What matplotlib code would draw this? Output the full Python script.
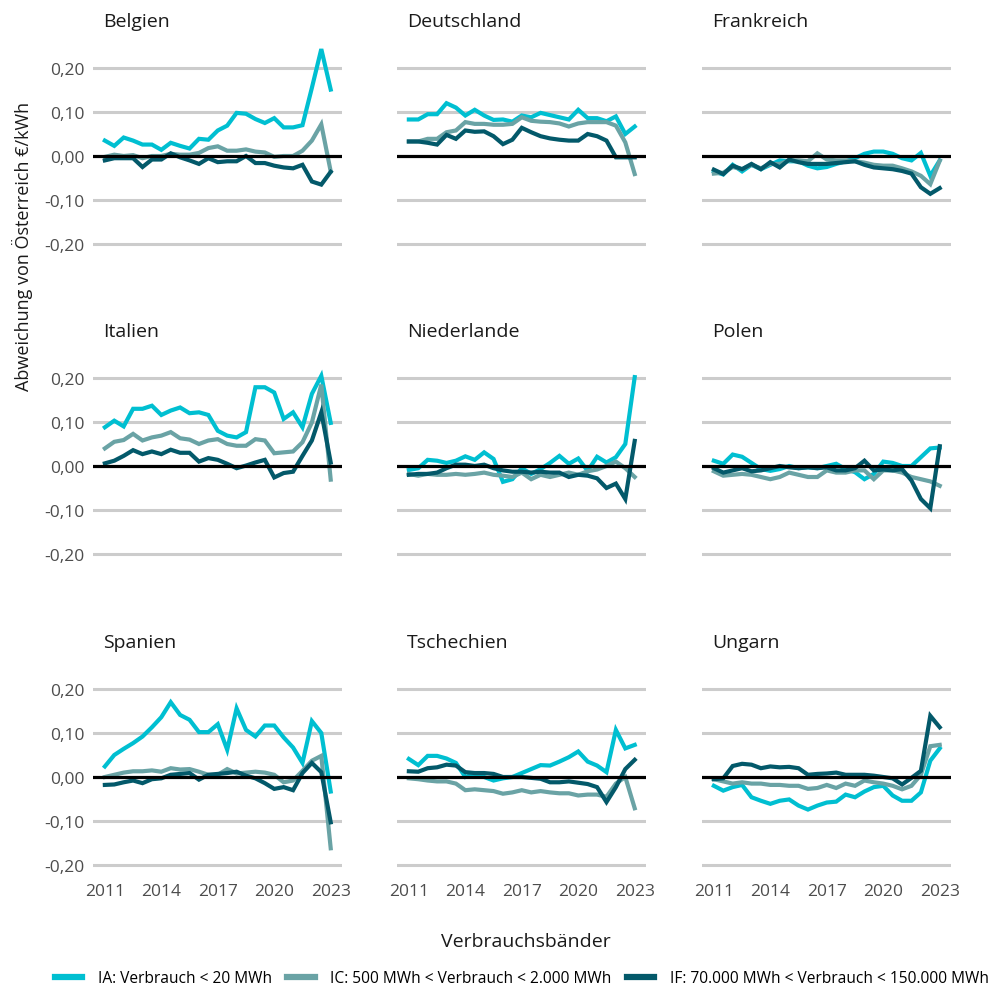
import matplotlib
matplotlib.use("Agg")
from matplotlib import pyplot as plt
from matplotlib.lines import Line2D
from matplotlib.ticker import FuncFormatter

plt.rcParams['font.family'] = ['Open Sans', 'DejaVu Sans']

# half-year steps 2011 .. 2023
years = [2011 + 0.5 * i for i in range(25)]

belgien_ia = [0.035, 0.023, 0.042, 0.035, 0.026, 0.026, 0.014, 0.030, 0.023, 0.017, 0.039, 0.037, 0.058,
              0.069, 0.098, 0.096, 0.084, 0.075, 0.086, 0.065, 0.065, 0.070, 0.155, 0.243, 0.151]
belgien_ic = [-0.002, 0.003, 0.000, 0.002, -0.005, 0.000, 0.000, 0.005, 0.003, 0.003, 0.007, 0.018, 0.022,
              0.012, 0.012, 0.015, 0.010, 0.008, -0.002, 0.000, 0.000, 0.012, 0.035, 0.072, -0.035]
belgien_if = [-0.010, -0.005, -0.005, -0.005, -0.025, -0.008, -0.008, 0.006, -0.003, -0.010, -0.018, -0.005,
              -0.014, -0.012, -0.012, 0.000, -0.016, -0.016, -0.022, -0.026, -0.028, -0.020, -0.058, -0.065, -0.036]

deutschland_ia = [0.083, 0.083, 0.095, 0.095, 0.120, 0.110, 0.092, 0.105, 0.092, 0.082, 0.083, 0.078, 0.092,
                  0.088, 0.098, 0.093, 0.088, 0.083, 0.105, 0.086, 0.086, 0.079, 0.090, 0.050, 0.067]
deutschland_ic = [0.033, 0.033, 0.039, 0.039, 0.054, 0.058, 0.077, 0.073, 0.073, 0.071, 0.071, 0.073, 0.088,
                  0.080, 0.078, 0.077, 0.074, 0.067, 0.074, 0.077, 0.077, 0.077, 0.069, 0.031, -0.041]
deutschland_if = [0.033, 0.033, 0.030, 0.026, 0.048, 0.039, 0.058, 0.055, 0.056, 0.045, 0.027, 0.037, 0.064,
                  0.054, 0.045, 0.040, 0.037, 0.035, 0.035, 0.050, 0.045, 0.035, -0.003, -0.003, -0.003]

frankreich_ia = [-0.035, -0.042, -0.020, -0.035, -0.020, -0.030, -0.020, -0.010, -0.012, -0.012, -0.022, -0.028,
                 -0.025, -0.018, -0.012, -0.005, 0.005, 0.010, 0.010, 0.005, -0.005, -0.010, 0.007, -0.045, -0.010]
frankreich_ic = [-0.040, -0.038, -0.025, -0.030, -0.020, -0.028, -0.018, -0.018, -0.010, -0.010, -0.012, 0.006,
                 -0.008, -0.010, -0.010, -0.012, -0.015, -0.020, -0.022, -0.022, -0.028, -0.035, -0.045, -0.064, -0.011]
frankreich_if = [-0.031, -0.041, -0.022, -0.030, -0.018, -0.030, -0.014, -0.026, -0.008, -0.014, -0.018, -0.018,
                 -0.018, -0.016, -0.014, -0.012, -0.020, -0.026, -0.028, -0.030, -0.034, -0.040, -0.071, -0.086, -0.073]

italien_ia = [0.088, 0.103, 0.090, 0.130, 0.130, 0.137, 0.116, 0.126, 0.133, 0.120, 0.122, 0.116, 0.080,
              0.069, 0.065, 0.077, 0.179, 0.179, 0.167, 0.107, 0.122, 0.088, 0.164, 0.205, 0.098]
italien_ic = [0.040, 0.055, 0.059, 0.073, 0.058, 0.065, 0.069, 0.077, 0.063, 0.060, 0.050, 0.058, 0.061,
              0.050, 0.046, 0.046, 0.061, 0.058, 0.029, 0.031, 0.033, 0.054, 0.099, 0.185, -0.031]
italien_if = [0.006, 0.012, 0.023, 0.036, 0.027, 0.033, 0.027, 0.037, 0.030, 0.030, 0.010, 0.018, 0.014,
              0.005, -0.005, 0.001, 0.008, 0.014, -0.026, -0.016, -0.013, 0.023, 0.058, 0.122, 0.008]

niederlande_ia = [-0.009, -0.005, 0.014, 0.012, 0.007, 0.012, 0.022, 0.014, 0.031, 0.016, -0.036, -0.030, -0.005,
                  -0.018, -0.007, 0.007, 0.023, 0.005, 0.017, -0.011, 0.021, 0.008, 0.020, 0.050, 0.202]
niederlande_ic = [-0.018, -0.022, -0.018, -0.020, -0.020, -0.018, -0.020, -0.018, -0.015, -0.020, -0.022, -0.025,
                  -0.015, -0.030, -0.020, -0.025, -0.020, -0.015, -0.020, -0.012, -0.008, 0.000, 0.010, -0.005, -0.025]
niederlande_if = [-0.020, -0.018, -0.018, -0.015, -0.005, 0.003, 0.003, 0.000, 0.003, -0.005, -0.010, -0.013,
                  -0.013, -0.015, -0.013, -0.015, -0.015, -0.025, -0.020, -0.022, -0.028, -0.050, -0.040, -0.075, 0.057]

polen_ia = [0.012, 0.005, 0.026, 0.021, 0.007, -0.007, -0.011, -0.007, 0.000, -0.005, -0.003, -0.005, 0.000,
            0.005, -0.007, -0.014, -0.030, -0.018, 0.010, 0.007, 0.000, 0.000, 0.020, 0.040, 0.042]
polen_ic = [-0.012, -0.022, -0.020, -0.018, -0.020, -0.025, -0.030, -0.025, -0.015, -0.020, -0.025, -0.025, -0.010,
            -0.015, -0.015, -0.010, -0.010, -0.030, -0.010, -0.010, -0.015, -0.025, -0.030, -0.035, -0.045]
polen_if = [-0.005, -0.015, -0.010, -0.005, -0.012, -0.010, -0.005, 0.000, -0.003, -0.005, -0.003, -0.005, -0.003,
            -0.010, -0.010, -0.005, 0.012, -0.010, -0.008, -0.010, -0.007, -0.033, -0.075, -0.096, 0.045]

spanien_ia = [0.024, 0.050, 0.064, 0.077, 0.092, 0.113, 0.136, 0.170, 0.141, 0.130, 0.102, 0.102, 0.120,
              0.062, 0.156, 0.107, 0.092, 0.117, 0.117, 0.090, 0.067, 0.032, 0.127, 0.100, -0.033]
spanien_ic = [0.000, 0.005, 0.010, 0.013, 0.013, 0.015, 0.012, 0.020, 0.017, 0.018, 0.012, 0.005, 0.005,
              0.018, 0.008, 0.010, 0.012, 0.010, 0.005, -0.012, -0.008, 0.014, 0.037, 0.048, -0.162]
spanien_if = [-0.018, -0.017, -0.012, -0.008, -0.014, -0.005, -0.003, 0.005, 0.007, 0.009, -0.006, 0.005, 0.007,
              0.009, 0.012, 0.003, -0.003, -0.014, -0.027, -0.023, -0.030, 0.009, 0.032, 0.011, -0.103]

tschechien_ia = [0.041, 0.027, 0.048, 0.048, 0.042, 0.032, 0.000, 0.007, 0.000, -0.008, -0.003, 0.000, 0.009,
                 0.018, 0.027, 0.026, 0.035, 0.045, 0.058, 0.035, 0.026, 0.011, 0.107, 0.065, 0.073]
tschechien_ic = [-0.003, -0.005, -0.008, -0.010, -0.010, -0.015, -0.030, -0.028, -0.030, -0.032, -0.038, -0.035,
                 -0.030, -0.035, -0.032, -0.035, -0.037, -0.037, -0.042, -0.040, -0.040, -0.045, -0.015, 0.000, -0.071]
tschechien_if = [0.013, 0.012, 0.020, 0.022, 0.028, 0.026, 0.011, 0.009, 0.009, 0.007, 0.000, 0.000, 0.000,
                 -0.002, -0.004, -0.012, -0.012, -0.010, -0.013, -0.016, -0.023, -0.057, -0.023, 0.018, 0.039]

ungarn_ia = [-0.020, -0.031, -0.023, -0.018, -0.046, -0.054, -0.061, -0.054, -0.051, -0.065, -0.074, -0.065,
             -0.058, -0.056, -0.040, -0.046, -0.033, -0.023, -0.020, -0.042, -0.054, -0.054, -0.035, 0.037, 0.065]
ungarn_ic = [-0.005, -0.010, -0.015, -0.012, -0.015, -0.015, -0.018, -0.018, -0.020, -0.020, -0.027, -0.025,
             -0.018, -0.025, -0.015, -0.020, -0.008, -0.012, -0.015, -0.020, -0.028, -0.020, 0.005, 0.070, 0.073]
ungarn_if = [-0.005, -0.003, 0.025, 0.030, 0.028, 0.020, 0.024, 0.022, 0.023, 0.020, 0.005, 0.007, 0.008,
             0.010, 0.005, 0.005, 0.005, 0.003, 0.000, -0.003, -0.017, -0.002, 0.014, 0.139, 0.113]

countries = ['Belgien', 'Deutschland', 'Frankreich', 'Italien', 'Niederlande', 'Polen',
             'Spanien', 'Tschechien', 'Ungarn']
series_ia = [belgien_ia, deutschland_ia, frankreich_ia, italien_ia, niederlande_ia, polen_ia,
             spanien_ia, tschechien_ia, ungarn_ia]
series_ic = [belgien_ic, deutschland_ic, frankreich_ic, italien_ic, niederlande_ic, polen_ic,
             spanien_ic, tschechien_ic, ungarn_ic]
series_if = [belgien_if, deutschland_if, frankreich_if, italien_if, niederlande_if, polen_if,
             spanien_if, tschechien_if, ungarn_if]

band_labels = ['IA: Verbrauch < 20 MWh',
               'IC: 500 MWh < Verbrauch < 2.000 MWh',
               'IF: 70.000 MWh < Verbrauch < 150.000 MWh']
band_colors = ['#00BFD1', '#6AA3A5', '#03596A']

y_ticks = [-0.2, -0.1, 0.0, 0.1, 0.2]
x_ticks = [2011, 2014, 2017, 2020, 2023]

fig = plt.figure(figsize=(10.01, 9.87), dpi=100)

W, H = 1001, 987
col_left = [93, 397, 702]
panel_w = 249
row_zero = [157, 467, 778]
y_lo, y_hi = -0.222, 0.265
px_per_unit = 440
panel_h = (y_hi - y_lo) * px_per_unit

fmt = FuncFormatter(lambda v, p: f"{v:.2f}".replace('.', ','))

for k, name in enumerate(countries):
    r, c = divmod(k, 3)
    top = row_zero[r] - y_hi * px_per_unit
    ax = fig.add_axes([col_left[c] / W, 1 - (top + panel_h) / H, panel_w / W, panel_h / H])
    ax.set_xlim(2010.37, 2023.6)
    ax.set_ylim(y_lo, y_hi)
    for v in y_ticks:
        if v == 0:
            continue
        ax.axhline(v, color='#CCCCCC', lw=2.2, zorder=1)
    for vals, col in zip([series_ia[k], series_ic[k], series_if[k]], band_colors):
        ax.plot(years, vals, color=col, lw=3.0, solid_joinstyle='miter', zorder=2)
    ax.axhline(0, color='black', lw=2.3, zorder=3)

    for s in ax.spines.values():
        s.set_visible(False)
    ax.set_yticks(y_ticks)
    ax.yaxis.set_major_formatter(fmt)
    ax.set_xticks(x_ticks)
    ax.tick_params(length=0, labelsize=12.5, colors='#4D4D4D', pad=6)
    if c != 0:
        ax.tick_params(axis='y', labelleft=False)
    if r != 2:
        ax.tick_params(axis='x', labelbottom=False)
    ax.patch.set_visible(False)
    ax.text(10 / panel_w, 1 + 13 / panel_h, name, transform=ax.transAxes,
            fontsize=14, color='#1A1A1A', ha='left', va='baseline')

fig.text(22 / W, 1 - 246 / H, 'Abweichung von Österreich €/kWh', rotation=90,
         ha='center', va='center', fontsize=13, color='#1A1A1A')
fig.text(526 / W, 1 - 942 / H, 'Verbrauchsbänder', ha='center', va='center',
         fontsize=14, color='#1A1A1A')

handles = [Line2D([0], [0], color=col, lw=4.5) for col in band_colors]
fig.legend(handles, band_labels, loc='center', bbox_to_anchor=(522 / W, 1 - 979 / H), ncol=3,
           frameon=False, fontsize=11.2, handlelength=1.75, handletextpad=1.0, columnspacing=1.0,
           borderpad=0, borderaxespad=0)

fig.savefig('out.png', dpi=100)
